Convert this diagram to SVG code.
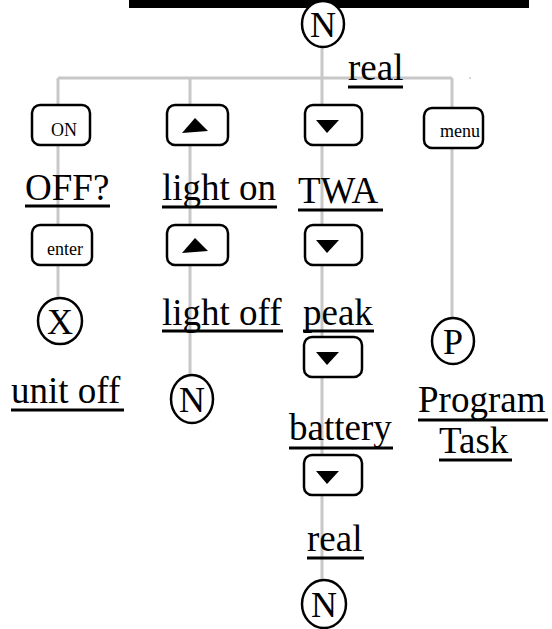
<svg xmlns="http://www.w3.org/2000/svg" width="552" height="629" viewBox="0 0 552 629">
<style>
.bg{fill:#ffffff}
.wire{stroke:#c8c8c8;stroke-width:3;fill:none}
.btn{fill:#ffffff;stroke:#000000;stroke-width:2.5}
.circ{fill:#ffffff;stroke:#000000;stroke-width:2.5}
.lbl{font-family:"Liberation Serif","Times New Roman",serif;font-size:37px;fill:#000000}
.cl{font-family:"Liberation Serif","Times New Roman",serif;font-size:36px;fill:#000000;text-anchor:middle}
.sm{font-family:"Liberation Serif","Times New Roman",serif;font-size:18px;fill:#000000}
.ul{stroke:#000000;stroke-width:3}
.tri{fill:#000000}
</style>
<rect class="bg" x="0" y="0" width="552" height="629"/>
<rect x="129" y="0" width="400" height="8" fill="#000000"/>
<g id="connectors">
<path class="wire" d="M322 46 V580"/>
<path class="wire" d="M58 78 H452"/>
<path class="wire" d="M58 78 V298"/>
<path class="wire" d="M190 78 V375"/>
<path class="wire" d="M452 78 V318"/>
<circle cx="470" cy="78" r="1" fill="#c8c8c8"/>
</g>
<g id="n-top"><ellipse class="circ" cx="323" cy="24" rx="21" ry="23"/><text class="cl" x="323" y="37">N</text></g>
<g id="real-top"><text class="lbl" x="348" y="80">real</text><line class="ul" x1="348" y1="87" x2="403" y2="87"/></g>
<g id="btn-on"><rect class="btn" x="32" y="105" width="58" height="40" rx="8"/><text class="sm" x="51" y="136">ON</text></g>
<g id="btn-up1"><rect class="btn" x="167" y="105" width="61" height="40" rx="8"/><polygon class="tri" points="182,133 195,118 208,131"/></g>
<g id="btn-down1"><rect class="btn" x="305" y="105" width="57" height="40" rx="8"/><polygon class="tri" points="316,120 339,120 327,133"/></g>
<g id="btn-menu"><rect class="btn" x="424" y="108" width="59" height="40" rx="8"/><text class="sm" x="440" y="137">menu</text></g>
<g id="off"><text class="lbl" x="25" y="200">OFF?</text><line class="ul" x1="25" y1="206" x2="110" y2="206"/></g>
<g id="light-on"><text class="lbl" x="162" y="200">light on</text><line class="ul" x1="162" y1="207" x2="277" y2="207"/></g>
<g id="twa"><text class="lbl" x="298" y="203">TWA</text><line class="ul" x1="298" y1="210" x2="383" y2="210"/></g>
<g id="btn-enter"><rect class="btn" x="32" y="225" width="60" height="40" rx="8"/><text class="sm" x="47" y="255">enter</text></g>
<g id="btn-up2"><rect class="btn" x="167" y="225" width="61" height="40" rx="8"/><polygon class="tri" points="182,253 195,238 208,251"/></g>
<g id="btn-down2"><rect class="btn" x="305" y="225" width="57" height="40" rx="8"/><polygon class="tri" points="316,240 339,240 327,253"/></g>
<g id="x-node"><ellipse class="circ" cx="60" cy="321" rx="22" ry="23"/><text class="cl" x="60" y="334">X</text></g>
<g id="light-off"><text class="lbl" x="162" y="325">light off</text><line class="ul" x1="162" y1="331" x2="283" y2="331"/></g>
<g id="peak"><text class="lbl" x="303" y="325">peak</text><line class="ul" x1="303" y1="331" x2="374" y2="331"/></g>
<g id="p-node"><ellipse class="circ" cx="453" cy="341" rx="21" ry="23"/><text class="cl" x="453" y="354">P</text></g>
<g id="btn-down3"><rect class="btn" x="304" y="337" width="58" height="40" rx="8"/><polygon class="tri" points="316,352 339,352 327,365"/></g>
<g id="n-mid"><ellipse class="circ" cx="192" cy="399" rx="21" ry="24"/><text class="cl" x="192" y="412">N</text></g>
<g id="unit-off"><text class="lbl" x="11" y="403">unit off</text><line class="ul" x1="11" y1="410" x2="124" y2="410"/></g>
<g id="program-task"><text class="lbl" x="418" y="412">Program</text><line class="ul" x1="418" y1="420" x2="548" y2="420"/><text class="lbl" x="439" y="453">Task</text><line class="ul" x1="439" y1="460" x2="512" y2="460"/></g>
<g id="battery"><text class="lbl" x="289" y="440">battery</text><line class="ul" x1="289" y1="448" x2="393" y2="448"/></g>
<g id="btn-down4"><rect class="btn" x="304" y="455" width="58" height="40" rx="8"/><polygon class="tri" points="316,471 339,471 327,484"/></g>
<g id="real-bottom"><text class="lbl" x="307" y="551">real</text><line class="ul" x1="307" y1="558" x2="364" y2="558"/></g>
<g id="n-bottom"><ellipse class="circ" cx="324" cy="604" rx="22" ry="24"/><text class="cl" x="324" y="617">N</text></g>
</svg>
